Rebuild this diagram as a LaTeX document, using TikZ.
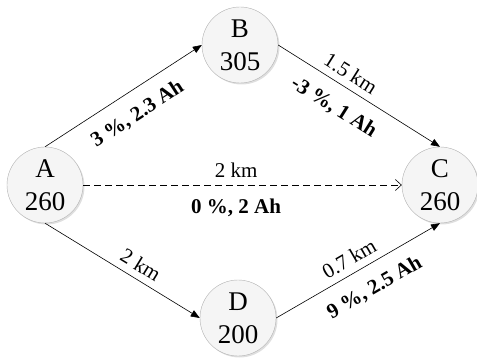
\documentclass[tikz,border=0pt]{standalone}
\usepackage{fontspec}
\setmainfont{Liberation Serif}
\usetikzlibrary{arrows.meta,shadows}

\begin{document}
\begin{tikzpicture}[
    x=1pt, y=-1pt,
    town/.style={circle, draw=gray!60, fill=gray!8, minimum size=76pt, inner sep=0pt, align=center,
      font=\fontsize{27}{33}\selectfont, drop shadow={opacity=0.25, shadow xshift=1.5pt, shadow yshift=-1.5pt}},
    road/.style={-{Triangle[length=9pt,width=7pt]}, semithick},
    flat/.style={-{Straight Barb[length=6pt,width=11pt]}, dash pattern=on 7pt off 4pt, semithick},
    dist/.style={font=\fontsize{21}{24}\selectfont, sloped, above=5pt, inner sep=2pt},
    cost/.style={font=\fontsize{21}{24}\selectfont\bfseries, sloped, below=12pt, inner sep=2pt}
  ]
    \useasboundingbox (0,0) rectangle (477,358);

    \node[town] (A) at (45,185) {A\\260};
    \node[town] (B) at (240,45) {B\\305};
    \node[town] (C) at (440,185) {C\\260};
    \node[town] (D) at (238,318) {D\\200};

    \draw[road] (A.north) -- node[cost, pos=0.51] {3 \%, 2.3 Ah} (B.west);
    \draw[road] (B.east) -- node[dist, pos=0.4] {1.5 km} node[cost, pos=0.42] {-3 \%, 1 Ah} (C.north);
    \draw[flat] (A.east) -- node[dist, pos=0.48] {2 km} node[cost, pos=0.48] {0 \%, 2 Ah} (C.west);
    \draw[road] (A.south) -- node[dist, pos=0.57] {2 km} (D.west);
    \draw[road] (D.east) -- node[dist, pos=0.49] {0.7 km} node[cost, pos=0.53] {9 \%, 2.5 Ah} (C.south);
  \end{tikzpicture}
\end{document}
